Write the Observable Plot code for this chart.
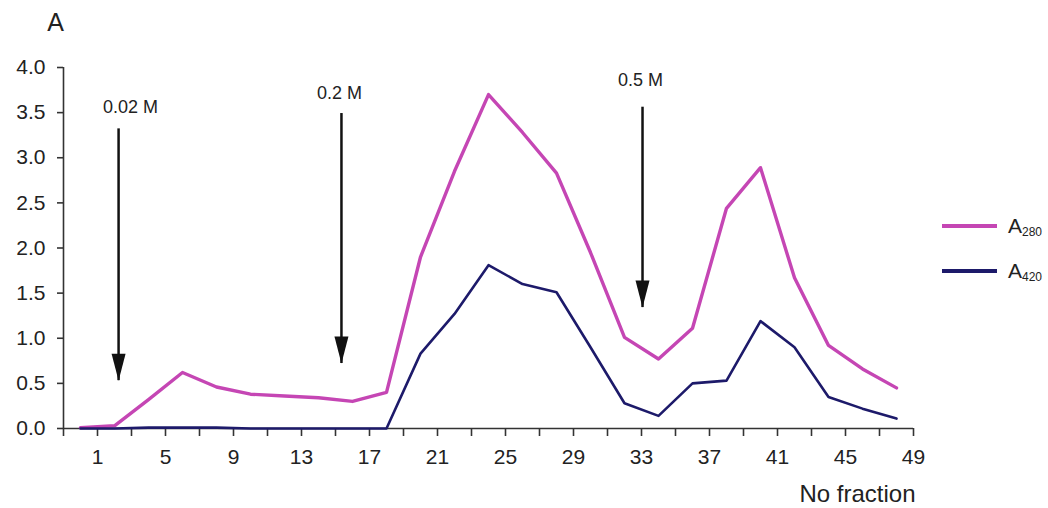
<!DOCTYPE html>
<html>
<head>
<meta charset="utf-8">
<script src="https://cdn.jsdelivr.net/npm/d3@7"></script>
<script src="https://cdn.jsdelivr.net/npm/@observablehq/plot@0.6"></script>
<style>
html,body{margin:0;padding:0;background:#fff;}
#wrap{position:relative;width:1048px;height:508px;font-family:"Liberation Sans",Arial,Helvetica,sans-serif;color:#222;}
.leg{position:absolute;left:942px;display:flex;align-items:center;height:24px;white-space:nowrap;}
.leg .sw{width:55px;height:4px;margin-right:11px;}
.leg .a{font-size:21px;line-height:24px;}
.leg .s{font-size:12px;position:relative;top:6px;}
</style>
</head>
<body>
<div id="wrap"></div>
<script>
// Fraction numbers (x) and absorbance readings (y)
const fractions = [0, 2, 4, 6, 8, 10, 12, 14, 16, 18, 20, 22, 24, 26, 28, 30, 32, 34, 36, 38, 40, 42, 44, 46, 48];
const a280 = [0.01, 0.03, 0.32, 0.62, 0.46, 0.38, 0.36, 0.34, 0.30, 0.40, 1.90, 2.85, 3.70, 3.28, 2.83, 1.95, 1.01, 0.77, 1.11, 2.44, 2.89, 1.67, 0.92, 0.66, 0.45];
const a420 = [0.00, 0.00, 0.01, 0.01, 0.01, 0.00, 0.00, 0.00, 0.00, 0.00, 0.83, 1.27, 1.81, 1.60, 1.51, 0.90, 0.28, 0.14, 0.50, 0.53, 1.19, 0.90, 0.35, 0.22, 0.11];

// Salt-step arrows: fraction, top value, tip value, label, label position
const arrowLabels = ["0.02 M", "0.2 M", "0.5 M"];
const arrowFraction = [2.24, 15.35, 33.06];
const arrowTop = [3.32, 3.49, 3.56];
const arrowTip = [0.53, 0.72, 1.34];
const arrowLabelFraction = [2.94, 15.24, 32.94];
const arrowLabelValue = [3.56, 3.72, 3.86];

// Axis ticks
const yTicks = [0, 0.5, 1.0, 1.5, 2.0, 2.5, 3.0, 3.5, 4.0];
const xTicks = d3.range(-1, 50, 2);
const xTickLabels = [1, 5, 9, 13, 17, 21, 25, 29, 33, 37, 41, 45, 49];

const seriesNames = ["A280", "A420"];
const colors = {A280: "#c546b4", A420: "#1d1a6a"};

const rows280 = fractions.map((f, i) => ({f, v: a280[i]}));
const rows420 = fractions.map((f, i) => ({f, v: a420[i]}));
const arrows = arrowLabels.map((label, i) => ({
  label, f: arrowFraction[i], top: arrowTop[i], tip: arrowTip[i],
  lf: arrowLabelFraction[i], lv: arrowLabelValue[i]
}));

const head = {draw(ctx) { ctx.moveTo(0, 13.5); ctx.lineTo(-7, -13.5); ctx.lineTo(7, -13.5); ctx.closePath(); }};

const axisColor = "#333";
const chart = Plot.plot({
  width: 1048, height: 508,
  marginLeft: 63, marginRight: 135, marginTop: 67, marginBottom: 80,
  style: {fontFamily: "'Liberation Sans', Arial, Helvetica, sans-serif", fontSize: "21px", color: "#222", background: "transparent"},
  x: {domain: [-1, 49]},
  y: {domain: [0, 4]},
  marks: [
    Plot.ruleX([-1], {y1: 0, y2: 4, stroke: axisColor, strokeWidth: 1.6}),
    Plot.ruleY([0], {x1: -1, x2: 49, stroke: axisColor, strokeWidth: 1.6}),
    Plot.axisY(yTicks, {tickSize: 6, tickPadding: 12, tickFormat: d => d.toFixed(1), label: null, stroke: axisColor, strokeWidth: 1.6, fontSize: 21}),
    Plot.axisX(xTicks, {tickSize: 8, tickPadding: 13, tickFormat: d => xTickLabels.includes(d) ? String(d) : "", label: null, stroke: axisColor, strokeWidth: 1.6, fontSize: 21}),
    Plot.line(rows280, {x: "f", y: "v", stroke: colors.A280, strokeWidth: 3.4}),
    Plot.line(rows420, {x: "f", y: "v", stroke: colors.A420, strokeWidth: 2.6}),
    Plot.ruleX(arrows, {x: "f", y1: "top", y2: "tip", stroke: "#111", strokeWidth: 2.5}),
    Plot.dot(arrows, {x: "f", y: "tip", symbol: head, r: 10, fill: "#111", stroke: null, dy: -13.5}),
    Plot.text(arrows, {x: "lf", y: "lv", text: "label", fontSize: 18, fill: "#222"}),
    Plot.text(["A"], {text: d => d, frameAnchor: "top-left", dx: -8, dy: -44.5, lineAnchor: "middle", textAnchor: "middle", fontSize: 25, fill: "#222"}),
    Plot.text(["No fraction"], {text: d => d, frameAnchor: "bottom-right", dx: 2, dy: 66, lineAnchor: "middle", textAnchor: "end", fontSize: 24, fill: "#222"})
  ]
});

const wrap = document.getElementById("wrap");
wrap.appendChild(chart);

// Legend (HTML, placed over the right margin)
const legendTop = {A280: 214, A420: 259};
seriesNames.forEach(name => {
  const row = document.createElement("div");
  row.className = "leg";
  row.style.top = legendTop[name] + "px";
  const sw = document.createElement("div");
  sw.className = "sw";
  sw.style.background = colors[name];
  const a = document.createElement("span");
  a.className = "a";
  a.textContent = name.slice(0, 1);
  const s = document.createElement("span");
  s.className = "s";
  s.textContent = name.slice(1);
  row.appendChild(sw); row.appendChild(a); row.appendChild(s);
  wrap.appendChild(row);
});
</script>
</body>
</html>
